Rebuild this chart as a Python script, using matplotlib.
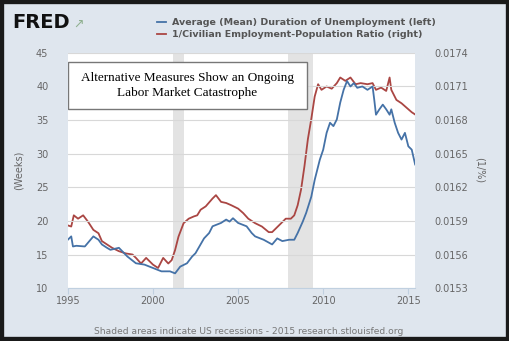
import matplotlib.pyplot as plt
import matplotlib.patches as patches

# Average (Mean) Duration of Unemployment, weeks
dur_year = [1995.0, 1995.2, 1995.3, 1995.5, 1996.0, 1996.5, 1996.8, 1997.0, 1997.3, 1997.5,
            1998.0, 1998.5, 1999.0, 1999.5, 2000.0, 2000.5, 2001.0, 2001.3, 2001.6, 2002.0,
            2002.3, 2002.5, 2003.0, 2003.3, 2003.5, 2004.0, 2004.3, 2004.5, 2004.7, 2005.0,
            2005.5, 2005.8, 2006.0, 2006.5, 2007.0, 2007.3, 2007.6, 2008.0, 2008.3, 2008.5,
            2008.8, 2009.0, 2009.3, 2009.5, 2009.8, 2010.0, 2010.2, 2010.4, 2010.6, 2010.8,
            2011.0, 2011.2, 2011.4, 2011.6, 2011.8, 2012.0, 2012.3, 2012.6, 2012.9, 2013.0,
            2013.1, 2013.3, 2013.5, 2013.7, 2013.9, 2014.0, 2014.2, 2014.4, 2014.6, 2014.8,
            2015.0, 2015.2, 2015.4]
dur_weeks = [17.2, 17.7, 16.2, 16.3, 16.2, 17.7, 17.2, 16.5, 16.0, 15.7,
             16.0, 14.7, 13.7, 13.5, 13.0, 12.5, 12.5, 12.2, 13.2, 13.7,
             14.7, 15.2, 17.4, 18.2, 19.2, 19.7, 20.2, 19.9, 20.4, 19.7,
             19.2, 18.2, 17.7, 17.2, 16.5, 17.4, 17.0, 17.2, 17.2, 18.2,
             19.9, 21.2, 23.6, 26.1, 29.1, 30.6, 33.1, 34.6, 34.1, 35.1,
             37.6, 39.5, 40.8, 40.0, 40.5, 39.8, 40.0, 39.5, 40.0, 38.0,
             35.8, 36.6, 37.3, 36.6, 35.8, 36.6, 34.6, 33.1, 32.1, 33.1,
             31.1, 30.6, 28.4]

# 1/Civilian Employment-Population Ratio
epr_year = [1995.0, 1995.2, 1995.35, 1995.6, 1995.9, 1996.2, 1996.5, 1996.8, 1997.0, 1997.3,
            1997.6, 1998.0, 1998.4, 1998.8, 1999.0, 1999.3, 1999.6, 2000.0, 2000.3, 2000.6,
            2000.9, 2001.1, 2001.3, 2001.5, 2001.8, 2002.1, 2002.4, 2002.6, 2002.8, 2003.1,
            2003.5, 2003.7, 2004.0, 2004.3, 2004.6, 2005.0, 2005.3, 2005.6, 2006.0, 2006.4,
            2006.8, 2007.0, 2007.4, 2007.8, 2008.1, 2008.3, 2008.5, 2008.7, 2008.9, 2009.1,
            2009.3, 2009.5, 2009.7, 2009.9, 2010.2, 2010.5, 2010.8, 2011.0, 2011.3, 2011.6,
            2011.9, 2012.2, 2012.6, 2012.9, 2013.1, 2013.4, 2013.7, 2013.9, 2014.0, 2014.3,
            2014.6, 2014.9, 2015.2, 2015.4]
epr_inv = [0.01586, 0.01585, 0.01595, 0.01592, 0.01595, 0.01589, 0.01582, 0.01579, 0.01572, 0.01569,
           0.01566, 0.01563, 0.01561, 0.01560, 0.01557, 0.01552, 0.01557, 0.01551, 0.01548, 0.01557,
           0.01552, 0.01555, 0.01564, 0.01576, 0.01588, 0.01592, 0.01594, 0.01595, 0.01600, 0.01603,
           0.01610, 0.01613, 0.01607, 0.01606, 0.01604, 0.01601, 0.01597, 0.01592, 0.01588, 0.01585,
           0.01580, 0.01580, 0.01586, 0.01592, 0.01592, 0.01595, 0.01604, 0.01618, 0.01639, 0.01663,
           0.01681, 0.01701, 0.01712, 0.01707, 0.01710, 0.01708, 0.01713, 0.01718, 0.01715, 0.01718,
           0.01712, 0.01713, 0.01712, 0.01713, 0.01707, 0.01709, 0.01706, 0.01718, 0.01707, 0.01698,
           0.01695, 0.01691, 0.01687, 0.01685]

recessions = [(2001.17, 2001.83), (2007.92, 2009.42)]
left_ticks = [10, 15, 20, 25, 30, 35, 40, 45]
right_ticks = [0.0153, 0.0156, 0.0159, 0.0162, 0.0165, 0.0168, 0.0171, 0.0174]
year_ticks = [1995, 2000, 2005, 2010, 2015]

bg = '#dfe6ee'
blue = '#4572a7'
red = '#aa4643'
grey = '#666666'

fig = plt.figure(figsize=(5.1, 3.41), dpi=100, facecolor=bg)
ax = fig.add_axes([0.133, 0.155, 0.681, 0.69])
ax2 = ax.twinx()

# right axis sits underneath: white plot area, recession bands, red line
ax2.patch.set_visible(True)
ax2.patch.set_facecolor('white')
for start, end in recessions:
    ax2.axvspan(start, end, color='#e3e3e3', lw=0, zorder=0)
ax2.plot(epr_year, epr_inv, color=red, lw=1.3, zorder=2)
ax2.set_ylim(0.0153, 0.0174)
ax2.set_yticks(right_ticks)
ax2.set_yticklabels([f'{t:.4f}' for t in right_ticks])
for s in ax2.spines.values():
    s.set_visible(False)
ax2.tick_params(axis='y', length=0, labelsize=7, labelcolor=grey, pad=14)
ax2.set_ylabel('(1/%)', fontsize=7, color=grey, rotation=270, labelpad=12)

# left axis on top with a transparent patch
ax.set_zorder(ax2.get_zorder() + 1)
ax.patch.set_visible(False)
ax.plot(dur_year, dur_weeks, color=blue, lw=1.3, zorder=3)
ax.set_xlim(1995, 2015.4)
ax.set_ylim(10, 45)
ax.set_yticks(left_ticks)
ax.set_xticks(year_ticks)
ax.grid(axis='y', color='#d8d8d8', lw=0.8)
ax.set_axisbelow(True)
for s in ax.spines.values():
    s.set_visible(False)
ax.spines['bottom'].set_visible(True)
ax.spines['bottom'].set_color('#c0d0e0')
ax.tick_params(axis='y', length=0, labelsize=7, labelcolor=grey, pad=14)
ax.tick_params(axis='x', length=4, color='#c0d0e0', labelsize=7, labelcolor=grey, pad=2)
ax.set_ylabel('(Weeks)', fontsize=7, color=grey, labelpad=9)

# headline box
ax.add_patch(patches.Rectangle((0.0, 0.762), 0.689, 0.2, transform=ax.transAxes,
                               fc='white', ec='#777777', lw=1, zorder=5))
ax.text(0.344, 0.862, 'Alternative Measures Show an Ongoing\nLabor Market Catastrophe',
        transform=ax.transAxes, ha='center', va='center', fontsize=9.5,
        family='Liberation Serif', color='black', linespacing=1.3, zorder=6)

# header: logo and legend
fig.text(0.025, 0.935, 'FRED', fontsize=14, fontweight='bold', color='#111111', va='center')
fig.text(0.143, 0.928, '\u2197', fontsize=9, color='#8fb08f', va='center')
fig.add_artist(plt.Line2D([0.308, 0.326], [0.935, 0.935], color=blue, lw=1.3))
fig.add_artist(plt.Line2D([0.308, 0.326], [0.900, 0.900], color=red, lw=1.3))
fig.text(0.337, 0.935, 'Average (Mean) Duration of Unemployment (left)', fontsize=6.8,
         fontweight='bold', color='#555555', va='center')
fig.text(0.337, 0.900, '1/Civilian Employment-Population Ratio (right)', fontsize=6.8,
         fontweight='bold', color='#555555', va='center')

fig.text(0.488, 0.027, 'Shaded areas indicate US recessions - 2015 research.stlouisfed.org',
         fontsize=6.6, color='#777777', ha='center', va='center')

# dark frame round the image
fig.add_artist(patches.Rectangle((0, 0), 1, 1, transform=fig.transFigure, fill=False,
                                 ec='#1a1a1a', lw=6))

fig.savefig('out.png', dpi=100, facecolor=bg)
